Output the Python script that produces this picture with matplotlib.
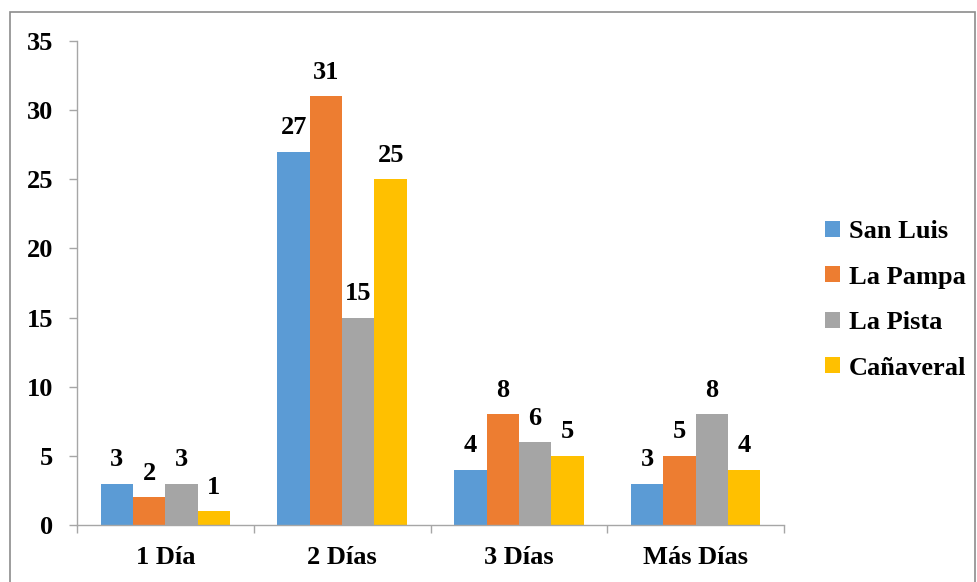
import numpy as np
import matplotlib
matplotlib.use("Agg")
import matplotlib.pyplot as plt
from matplotlib.patches import Rectangle

categorias = ["1 Día", "2 Días", "3 Días", "Más Días"]
series = ["San Luis", "La Pampa", "La Pista", "Cañaveral"]
san_luis = [3, 27, 4, 3]
la_pampa = [2, 31, 8, 5]
la_pista = [3, 15, 6, 8]
canaveral = [1, 25, 5, 4]
colores = ["#5B9BD5", "#ED7D31", "#A5A5A5", "#FFC000"]

plt.rcParams["font.family"] = ["Liberation Serif", "DejaVu Serif"]
plt.rcParams["font.weight"] = "bold"

fig = plt.figure(figsize=(9.77, 5.82), dpi=100)
ax = fig.add_axes([77 / 977, 1 - 525 / 582, (784 - 77) / 977, (525 - 41) / 582])

# marco exterior del grafico
fig.patches.append(Rectangle((10 / 977, -0.01), 965 / 977, 1 - 12 / 582 + 0.01,
                             transform=fig.transFigure, fill=False,
                             edgecolor="#8C8C8C", linewidth=1.2))

x = np.arange(len(categorias))
ancho = 0.183
valores = [san_luis, la_pampa, la_pista, canaveral]
for i, (nombre, vals, col) in enumerate(zip(series, valores, colores)):
    pos = x + (i - 1.5) * ancho
    barras = ax.bar(pos, vals, width=ancho, color=col, label=nombre, linewidth=0)
    for b, v in zip(barras, vals):
        ax.annotate(str(v), (b.get_x() + b.get_width() / 2, v),
                    xytext=(0, 9), textcoords="offset points",
                    ha="center", va="bottom", fontsize=19, fontweight="bold")

ax.set_xlim(-0.5, 3.5)
ax.set_ylim(0, 35)
ax.set_yticks(range(0, 36, 5))
ax.set_xticks(x)
ax.set_xticklabels(categorias)
ax.set_xticks(np.arange(-0.5, 4, 1), minor=True)
ax.tick_params(axis="x", which="major", length=0, pad=15, labelsize=19)
ax.tick_params(axis="x", which="minor", length=6, color="#A6A6A6", width=1)
ax.tick_params(axis="y", length=6, color="#A6A6A6", width=1, pad=11, labelsize=19)

for s in ["top", "right"]:
    ax.spines[s].set_visible(False)
for s in ["left", "bottom"]:
    ax.spines[s].set_color("#A6A6A6")
    ax.spines[s].set_linewidth(1)

ax.legend(loc="center left", bbox_to_anchor=(1.025, 0.465), frameon=False,
          handlelength=0.55, handleheight=0.55, handletextpad=0.35,
          labelspacing=0.85, prop={"weight": "bold", "size": 19})

fig.savefig("out.png", dpi=100)
